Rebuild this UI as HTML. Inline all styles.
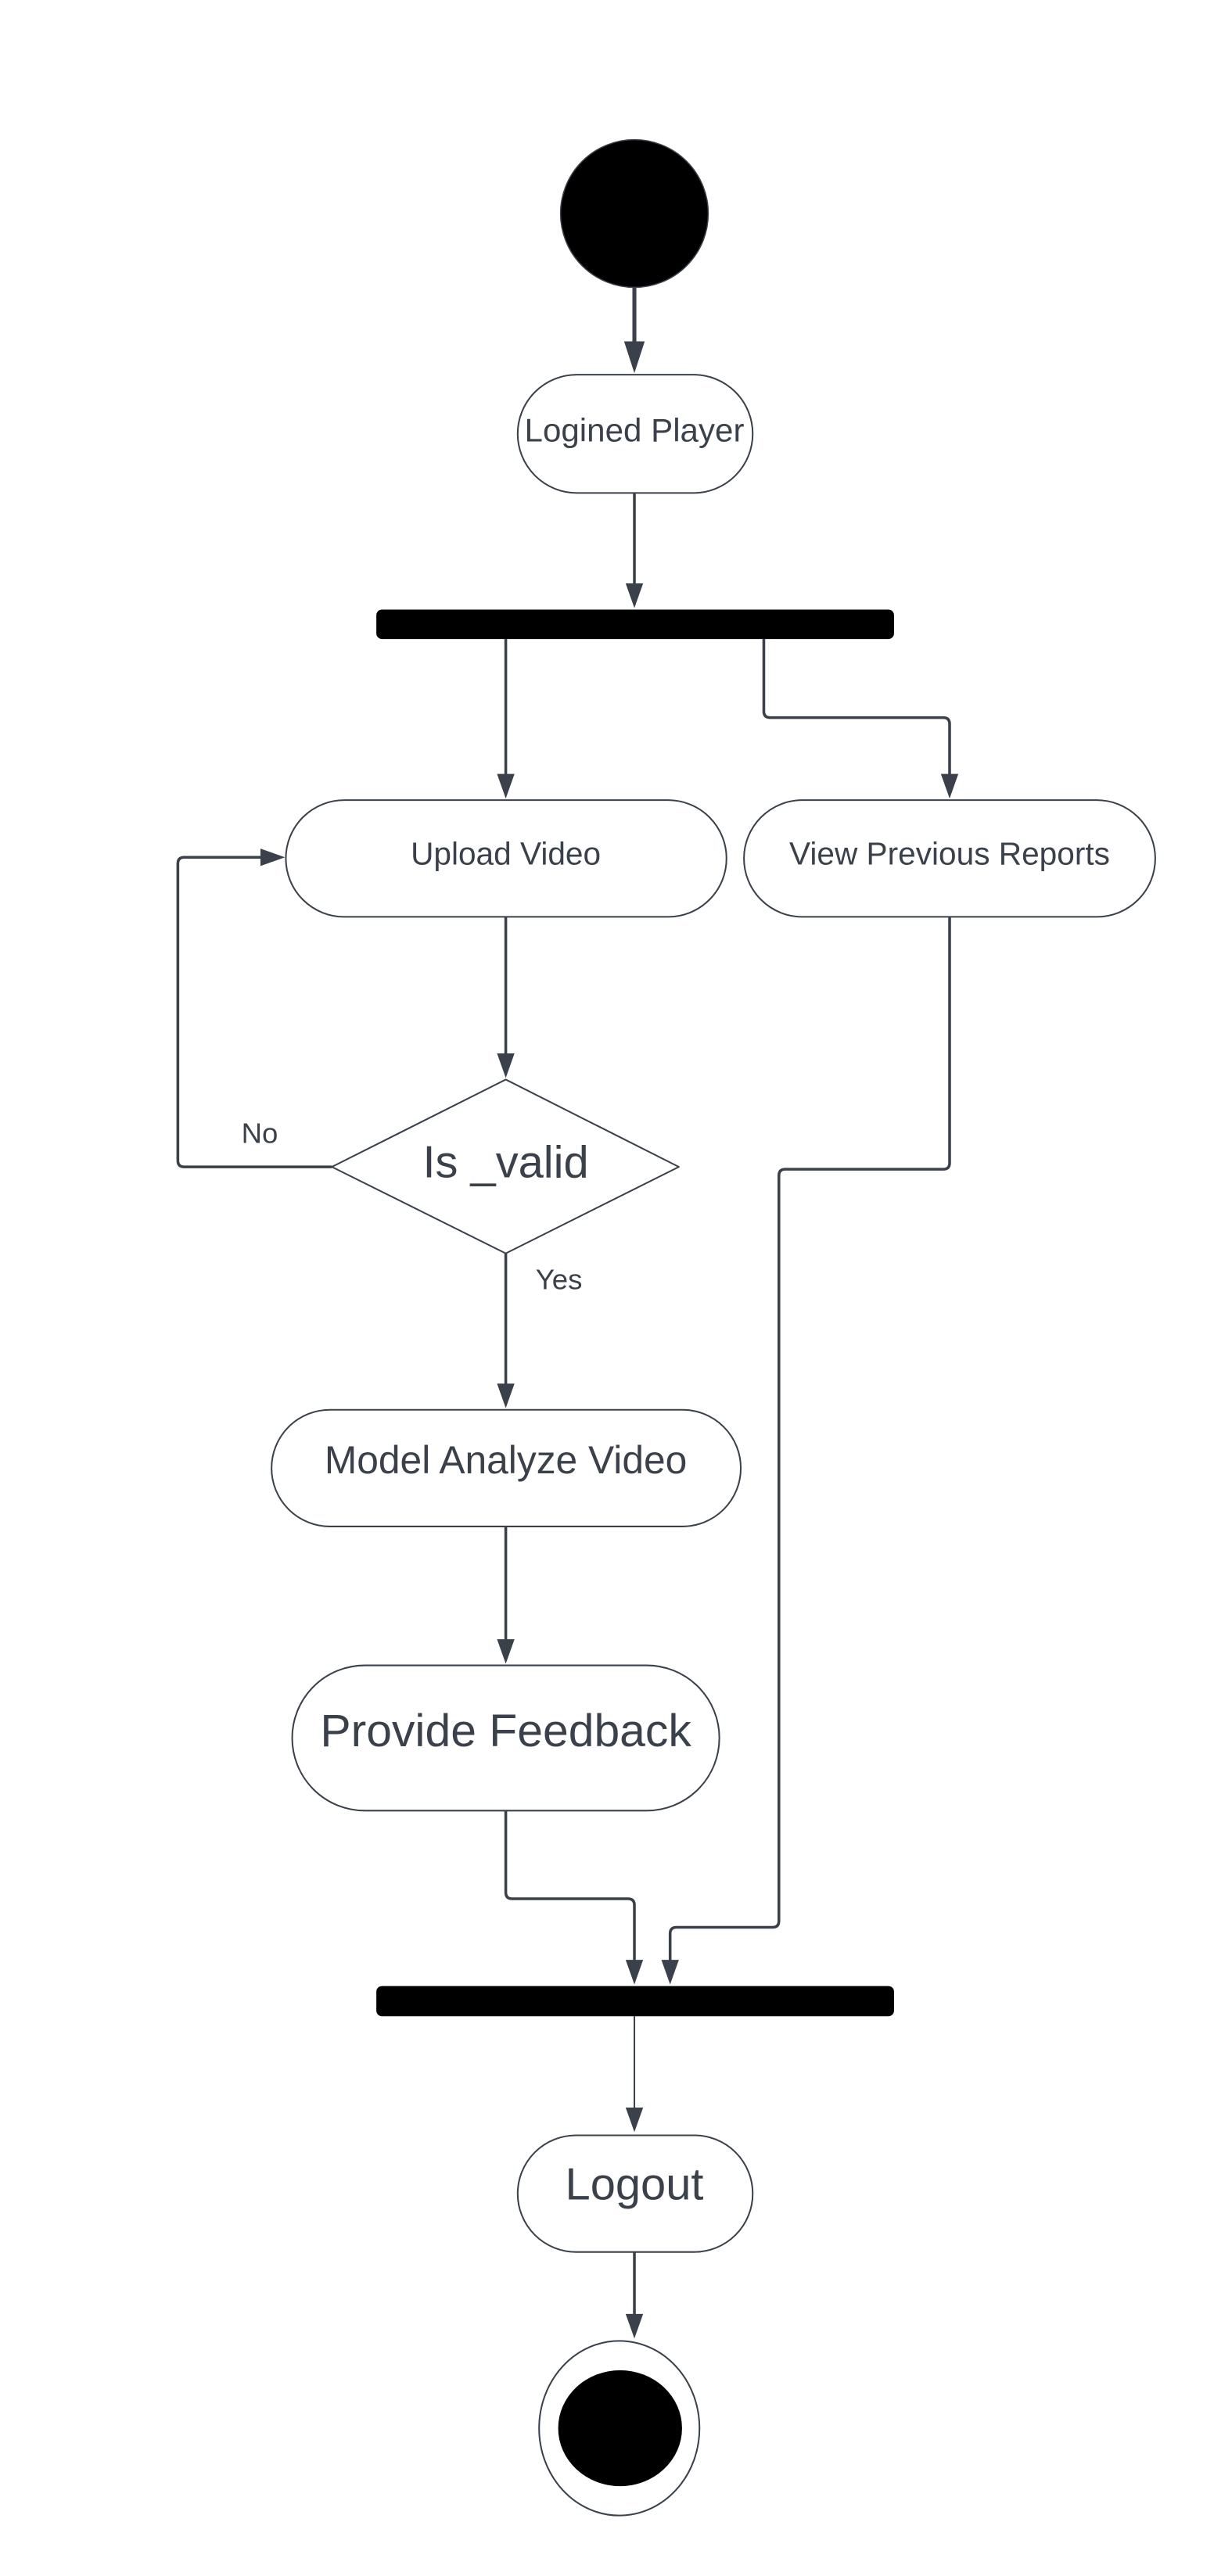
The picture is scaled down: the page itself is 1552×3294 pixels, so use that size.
<!DOCTYPE html>
<html><head><meta charset="utf-8"><style>
html,body{margin:0;padding:0;background:#fff;}
svg{display:block;}
text{font-family:"Liberation Sans",Arial,sans-serif;fill:#3a414a;}
</style></head><body>
<svg width="1552" height="3294" viewBox="0 0 1529 3245" preserveAspectRatio="xMinYMin meet" xmlns="http://www.w3.org/2000/svg">
<g fill="none" stroke="#3a414a" stroke-width="3.5" stroke-linejoin="round">
<line x1="799" y1="362" x2="799" y2="440" stroke-width="5"/>
<line x1="799" y1="621" x2="799" y2="740"/>
<line x1="637" y1="805" x2="637" y2="980"/>
<path d="M962 805 V896 Q962 904 970 904 H1188 Q1196 904 1196 912 V980"/>
<line x1="637" y1="1155" x2="637" y2="1332"/>
<path d="M418 1470 H232 Q224 1470 224 1462 V1088 Q224 1080 232 1080 H332"/>
<line x1="637" y1="1579" x2="637" y2="1748"/>
<line x1="637" y1="1923" x2="637" y2="2070"/>
<path d="M637 2281 V2384 Q637 2392 645 2392 H791 Q799 2392 799 2400 V2474"/>
<path d="M1196 1155 V1465 Q1196 1473 1188 1473 H989 Q981 1473 981 1481 V2420 Q981 2428 973 2428 H852 Q844 2428 844 2436 V2474"/>
<line x1="799" y1="2540" x2="799" y2="2660" stroke-width="2"/>
<line x1="799" y1="2837" x2="799" y2="2920"/>
</g>
<g fill="#3a414a">
<polygon points="786,430 812,430 799,470"/>
<polygon points="788,735 810,735 799,766"/>
<polygon points="626,975 648,975 637,1006"/>
<polygon points="1185,975 1207,975 1196,1006"/>
<polygon points="626,1327 648,1327 637,1358"/>
<polygon points="328,1069 328,1091 359,1080"/>
<polygon points="626,1743 648,1743 637,1774"/>
<polygon points="626,2065 648,2065 637,2096"/>
<polygon points="788,2469 810,2469 799,2500"/>
<polygon points="833,2469 855,2469 844,2500"/>
<polygon points="788,2655 810,2655 799,2686"/>
<polygon points="788,2915 810,2915 799,2946"/>
</g>
<circle cx="799" cy="269" r="93" fill="#000" stroke="#3a414a" stroke-width="1.5"/>
<rect x="474" y="768" width="652" height="37" rx="7" fill="#000"/>
<rect x="474" y="2502" width="652" height="38" rx="7" fill="#000"/>
<g fill="#fff" stroke="#3a414a" stroke-width="2">
<rect x="652" y="472" width="296" height="149" rx="74.5"/>
<rect x="360" y="1008" width="555" height="147" rx="73.5"/>
<rect x="937" y="1008" width="518" height="147" rx="73.5"/>
<polygon points="637,1360 855,1470 637,1579 418,1470" stroke-linejoin="round"/>
<rect x="342" y="1776" width="591" height="147" rx="73.5"/>
<rect x="368" y="2098" width="538" height="183" rx="91.5"/>
<rect x="652" y="2690" width="296" height="147" rx="73.5"/>
<ellipse cx="780" cy="3059" rx="101" ry="110"/>
</g>
<ellipse cx="781" cy="3059" rx="78" ry="73" fill="#000"/>
<g text-anchor="middle">
<text x="799" y="556" font-size="41.5">Logined Player</text>
<text x="637" y="1089" font-size="40">Upload Video</text>
<text x="1196" y="1089" font-size="40">View Previous Reports</text>
<text x="637" y="1483" font-size="57">Is _valid</text>
<text x="637" y="1856" font-size="49">Model Analyze Video</text>
<text x="637" y="2200" font-size="58">Provide Feedback</text>
<text x="799" y="2771" font-size="57">Logout</text>
<text x="327" y="1440" font-size="36">No</text>
<text x="704" y="1624" font-size="36">Yes</text>
</g>
</svg>
</body></html>
